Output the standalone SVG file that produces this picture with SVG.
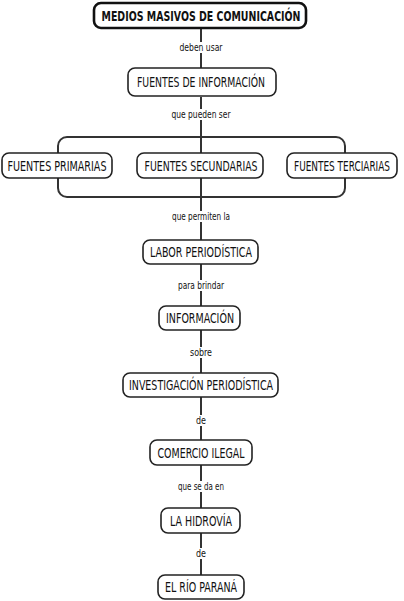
<svg xmlns="http://www.w3.org/2000/svg" width="404" height="601" viewBox="0 0 404 601">
<style>
.box{fill:#fff;stroke:#222;stroke-width:1.6}
.top{fill:#fff;stroke:#111;stroke-width:2.6}
.t{font-family:"DejaVu Sans Condensed","DejaVu Sans",sans-serif;font-stretch:condensed;font-size:13.5px;fill:#111;text-anchor:middle}
.tb{font-family:"DejaVu Sans Condensed","DejaVu Sans",sans-serif;font-stretch:condensed;font-size:13.5px;font-weight:bold;fill:#111;text-anchor:middle}
.l{font-family:"DejaVu Sans Condensed","DejaVu Sans",sans-serif;font-stretch:condensed;font-size:10px;fill:#111;text-anchor:middle}
.ln{stroke:#333;stroke-width:2;fill:none}
.bg{fill:#fff}
</style>
<g id="connectors">
<line class="ln" x1="201" y1="28" x2="201" y2="68"/>
<line class="ln" x1="201" y1="97" x2="201" y2="153"/>
<rect class="ln" x="58" y="137" width="287" height="60" rx="9" stroke-width="1.6"/>
<line class="ln" x1="201" y1="178" x2="201" y2="240"/>
<line class="ln" x1="201" y1="264" x2="201" y2="306"/>
<line class="ln" x1="201" y1="330" x2="201" y2="373"/>
<line class="ln" x1="201" y1="397" x2="201" y2="440"/>
<line class="ln" x1="201" y1="465" x2="201" y2="508"/>
<line class="ln" x1="201" y1="533" x2="201" y2="575"/>
<rect class="bg" x="179" y="42" width="45" height="11"/>
<text class="l" x="201" y="51" textLength="43" lengthAdjust="spacingAndGlyphs">deben usar</text>
<rect class="bg" x="172" y="109" width="61" height="11"/>
<text class="l" x="201" y="118" textLength="59" lengthAdjust="spacingAndGlyphs">que pueden ser</text>
<rect class="bg" x="171" y="211" width="60" height="11"/>
<text class="l" x="201" y="220" textLength="58" lengthAdjust="spacingAndGlyphs">que permiten la</text>
<rect class="bg" x="177" y="280" width="48" height="11"/>
<text class="l" x="201" y="289" textLength="46" lengthAdjust="spacingAndGlyphs">para brindar</text>
<rect class="bg" x="189" y="347" width="24" height="11"/>
<text class="l" x="201" y="356" textLength="22" lengthAdjust="spacingAndGlyphs">sobre</text>
<rect class="bg" x="195" y="415" width="12" height="11"/>
<text class="l" x="201" y="424" textLength="10" lengthAdjust="spacingAndGlyphs">de</text>
<rect class="bg" x="177" y="481" width="48" height="11"/>
<text class="l" x="201" y="490" textLength="46" lengthAdjust="spacingAndGlyphs">que se da en</text>
<rect class="bg" x="195" y="548" width="12" height="11"/>
<text class="l" x="201" y="557" textLength="10" lengthAdjust="spacingAndGlyphs">de</text>
</g>
<g id="n-medios">
<rect class="top" x="94" y="3" width="212" height="25" rx="7"/>
<text class="tb" x="201" y="20.5" textLength="199" lengthAdjust="spacingAndGlyphs">MEDIOS MASIVOS DE COMUNICACIÓN</text>
</g>
<g id="n-fuentes-info">
<rect class="box" x="128" y="68" width="148" height="28" rx="7"/>
<text class="t" x="201" y="87" textLength="128" lengthAdjust="spacingAndGlyphs">FUENTES DE INFORMACIÓN</text>
</g>
<g id="n-primarias">
<rect class="box" x="2" y="153" width="110" height="25" rx="7"/>
<text class="t" x="57" y="170.5" textLength="99" lengthAdjust="spacingAndGlyphs">FUENTES PRIMARIAS</text>
</g>
<g id="n-secundarias">
<rect class="box" x="137" y="153" width="126" height="25" rx="7"/>
<text class="t" x="201" y="170.5" textLength="113" lengthAdjust="spacingAndGlyphs">FUENTES SECUNDARIAS</text>
</g>
<g id="n-terciarias">
<rect class="box" x="287" y="153" width="110" height="25" rx="7"/>
<text class="t" x="342" y="170.5" textLength="96" lengthAdjust="spacingAndGlyphs">FUENTES TERCIARIAS</text>
</g>
<g id="n-labor">
<rect class="box" x="143" y="240" width="115" height="24" rx="7"/>
<text class="t" x="201" y="257" textLength="102" lengthAdjust="spacingAndGlyphs">LABOR PERIODÍSTICA</text>
</g>
<g id="n-informacion">
<rect class="box" x="159" y="306" width="81" height="24" rx="7"/>
<text class="t" x="200" y="323" textLength="68" lengthAdjust="spacingAndGlyphs">INFORMACIÓN</text>
</g>
<g id="n-investigacion">
<rect class="box" x="123" y="373" width="155" height="24" rx="7"/>
<text class="t" x="201" y="390" textLength="144" lengthAdjust="spacingAndGlyphs">INVESTIGACIÓN PERIODÍSTICA</text>
</g>
<g id="n-comercio">
<rect class="box" x="150" y="440" width="102" height="25" rx="7"/>
<text class="t" x="201" y="457.5" textLength="87" lengthAdjust="spacingAndGlyphs">COMERCIO ILEGAL</text>
</g>
<g id="n-hidrovia">
<rect class="box" x="161" y="508" width="79" height="25" rx="7"/>
<text class="t" x="201" y="525.5" textLength="62" lengthAdjust="spacingAndGlyphs">LA HIDROVÍA</text>
</g>
<g id="n-parana">
<rect class="box" x="158" y="575" width="86" height="24" rx="7"/>
<text class="t" x="201" y="592" textLength="72" lengthAdjust="spacingAndGlyphs">EL RÍO PARANÁ</text>
</g>
</svg>
